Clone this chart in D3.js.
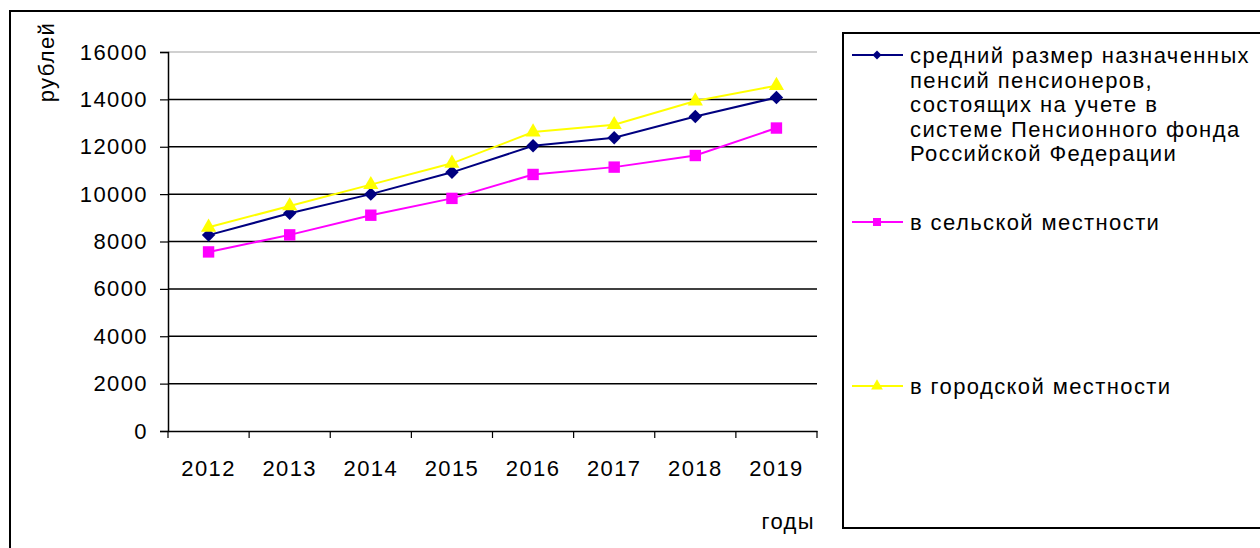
<!DOCTYPE html>
<html><head><meta charset="utf-8">
<script src="https://cdn.jsdelivr.net/npm/d3@7"></script>
<style>body{margin:0;background:#fff;} svg{display:block;font-family:"Liberation Sans",Arial,sans-serif;} text{letter-spacing:1.4px;}</style>
</head><body>
<svg id="c" width="1260" height="548"></svg>
<script>
const years = ["2012","2013","2014","2015","2016","2017","2018","2019"];
const totalValues = [8270, 9190, 10000, 10920, 12040, 12380, 13280, 14080];
const ruralValues = [7560, 8280, 9110, 9820, 10830, 11140, 11630, 12790];
const urbanValues = [8600, 9500, 10400, 11300, 12620, 12930, 13930, 14580];
const yTicks = [0, 2000, 4000, 6000, 8000, 10000, 12000, 14000, 16000];
const seriesNames = [
  ["средний размер назначенных","пенсий пенсионеров,","состоящих на учете в","системе Пенсионного фонда","Российской Федерации"],
  ["в сельской местности"],
  ["в городской местности"]
];
const seriesColors = ["#000080", "#ff00ff", "#ffff00"];
const seriesData = [totalValues, ruralValues, urbanValues];

const svg = d3.select("#c");
const fs = 22;
// marker shapes: rotated square (diamond), square, triangle
const shapeOf = [d3.symbolSquare, d3.symbolSquare, d3.symbolTriangle];
const rotOf = [45, 0, 0];
// outer frame (right/bottom run off the canvas)
svg.append("rect").attr("x",10).attr("y",11).attr("width",1270).attr("height",560)
  .attr("fill","none").attr("stroke","#000").attr("stroke-width",2);

const L=168, R=817, T=52, B=431;
const x = d3.scaleBand().domain(years).range([L,R]);
const y = d3.scaleLinear().domain([0,16000]).range([B,T]);

// gridlines
svg.append("g").selectAll("line").data(yTicks.filter(d=>d>0 && d<16000)).join("line")
  .attr("x1",L).attr("x2",R).attr("y1",d=>y(d)).attr("y2",d=>y(d))
  .attr("stroke","#000").attr("stroke-width",1.5);
svg.append("line").attr("x1",L).attr("x2",R).attr("y1",y(16000)).attr("y2",y(16000))
  .attr("stroke","#c0c0c0").attr("stroke-width",1.5);

// y axis
const ya = svg.append("g").attr("transform",`translate(${L},0)`)
  .call(d3.axisLeft(y).tickValues(yTicks).tickSize(8).tickPadding(12).tickFormat(d3.format("d")));
ya.select(".domain").attr("stroke","#000").attr("stroke-width",1.5);
ya.selectAll(".tick line").attr("stroke","#000").attr("stroke-width",1.2);
ya.selectAll("text").attr("font-size",fs).attr("font-family","Liberation Sans, Arial").attr("fill","#000");

// x axis
const xa = svg.append("g").attr("transform",`translate(0,${B})`)
  .call(d3.axisBottom(x).tickSize(0).tickPadding(29));
xa.select(".domain").attr("stroke","#000").attr("stroke-width",1.5);
xa.selectAll("text").attr("font-size",fs).attr("font-family","Liberation Sans, Arial").attr("fill","#000");
// boundary ticks
const bounds = years.map(d=>x(d)).concat([R]);
svg.append("g").selectAll("line").data(bounds).join("line")
  .attr("x1",d=>d).attr("x2",d=>d).attr("y1",B).attr("y2",B+7)
  .attr("stroke","#000").attr("stroke-width",1.2);

// axis titles
svg.append("text").attr("transform","translate(54,62) rotate(-90)").attr("text-anchor","middle")
  .attr("font-size",fs).text("рублей");
svg.append("text").attr("x",815).attr("y",529).attr("text-anchor","end")
  .attr("font-size",fs).text("годы");

// series
const line = d3.line().x((d,i)=>x(years[i])+x.bandwidth()/2).y(d=>y(d));
seriesData.forEach((vals,si)=>{
  svg.append("path").datum(vals).attr("d",line).attr("fill","none")
    .attr("stroke",seriesColors[si]).attr("stroke-width",2);
});
const symSizes=[90,130,100];
seriesData.forEach((vals,si)=>{
  svg.append("g").selectAll("path").data(vals).join("path")
    .attr("transform",(d,i)=>`translate(${x(years[i])+x.bandwidth()/2},${y(d)}) rotate(${rotOf[si]})`)
    .attr("d",d3.symbol(shapeOf[si],symSizes[si]))
    .attr("fill",seriesColors[si]);
});

// legend
svg.append("rect").attr("x",843).attr("y",33).attr("width",430).attr("height",495)
  .attr("fill","#fff").attr("stroke","#000").attr("stroke-width",2);
const legY = [55, 222, 386];
const lh = 24.5;
seriesNames.forEach((lines,si)=>{
  const g = svg.append("g").attr("transform",`translate(0,${legY[si]})`);
  g.append("line").attr("x1",852).attr("x2",903).attr("y1",0).attr("y2",0)
    .attr("stroke",seriesColors[si]).attr("stroke-width",2);
  g.append("path").attr("transform",`translate(877,0) rotate(${rotOf[si]})`)
    .attr("d",d3.symbol(shapeOf[si],[40,64,60][si])).attr("fill",seriesColors[si]);
  const t = g.append("text").attr("x",910).attr("y",8).attr("font-size",fs);
  lines.forEach((ln,i)=>t.append("tspan").attr("x",910).attr("dy",i?lh:0).text(ln));
});
</script>
</body></html>
